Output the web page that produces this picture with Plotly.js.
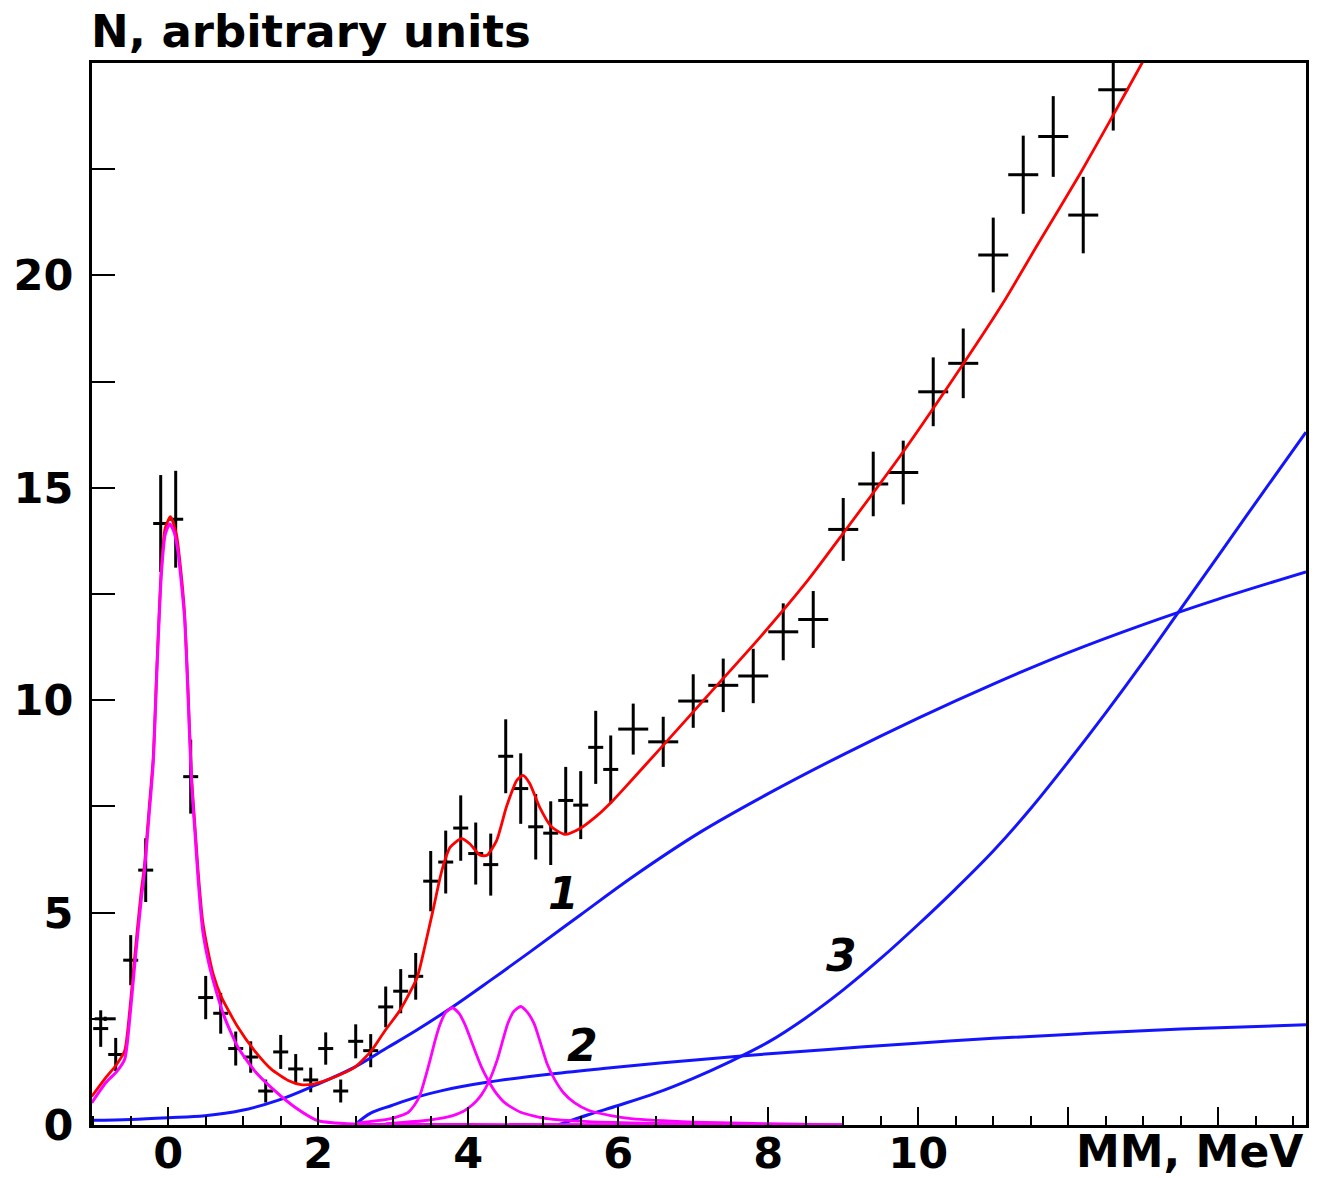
<!DOCTYPE html>
<html>
<head>
<meta charset="utf-8">
<script src="https://cdn.plot.ly/plotly-3.0.1.min.js"></script>
<style>html,body{margin:0;padding:0;background:#fff;}#chart{width:1322px;height:1178px;}</style>
</head>
<body>
<div id="chart"></div>
<script>
// ---- measured spectrum (bin centre, counts, errors) ----
const binCenter = [-0.9, -0.84, -0.7, -0.5, -0.3, -0.1, 0.1, 0.3, 0.5, 0.7, 0.9, 1.1, 1.3, 1.5, 1.7, 1.9, 2.1, 2.3, 2.5, 2.7, 2.9, 3.1, 3.3, 3.5, 3.7, 3.9, 4.1, 4.3, 4.5, 4.7, 4.9, 5.1, 5.3, 5.5, 5.7, 5.9, 6.2, 6.6, 7.0, 7.4, 7.8, 8.2, 8.6, 9.0, 9.4, 9.8, 10.2, 10.6, 11.0, 11.4, 11.8, 12.2, 12.6];
const counts    = [2.27, 2.5, 1.66, 3.88, 6.0, 14.16, 14.26, 8.2, 3.0, 2.63, 1.80, 1.60, 0.80, 1.72, 1.32, 1.06, 1.80, 0.80, 1.97, 1.75, 2.78, 3.15, 3.50, 5.74, 6.19, 6.99, 6.39, 6.13, 8.68, 7.92, 7.02, 6.87, 7.64, 7.53, 8.89, 8.37, 9.32, 9.02, 9.98, 10.35, 10.57, 11.61, 11.90, 14.02, 15.09, 15.36, 17.26, 17.93, 20.48, 22.37, 23.27, 21.42, 24.37];
const countErr  = [0.43, 0.05, 0.39, 0.59, 0.75, 1.14, 1.14, 0.87, 0.51, 0.48, 0.40, 0.37, 0.27, 0.40, 0.35, 0.29, 0.38, 0.27, 0.40, 0.39, 0.48, 0.52, 0.55, 0.71, 0.74, 0.77, 0.73, 0.73, 0.87, 0.83, 0.77, 0.75, 0.79, 0.80, 0.86, 0.80, 0.60, 0.59, 0.63, 0.63, 0.64, 0.67, 0.67, 0.74, 0.76, 0.75, 0.81, 0.82, 0.88, 0.92, 0.95, 0.90, 0.96];
const binHalfWidth = [0.1, 0.14, 0.1, 0.1, 0.1, 0.1, 0.1, 0.1, 0.1, 0.1, 0.1, 0.1, 0.1, 0.1, 0.1, 0.1, 0.1, 0.1, 0.1, 0.1, 0.1, 0.1, 0.1, 0.1, 0.1, 0.1, 0.1, 0.1, 0.1, 0.1, 0.1, 0.1, 0.1, 0.1, 0.1, 0.1, 0.2, 0.2, 0.2, 0.2, 0.2, 0.2, 0.2, 0.2, 0.2, 0.2, 0.2, 0.2, 0.2, 0.2, 0.2, 0.2, 0.2];

// ---- total fit (red) ----
const fitX = [-1.02, -0.83, -0.69, -0.58, -0.51, -0.45, -0.36, -0.32, -0.25, -0.2, -0.15, -0.09, -0.04, 0.03, 0.11, 0.19, 0.22, 0.26, 0.31, 0.36, 0.40, 0.46, 0.53, 0.6, 0.71, 0.93, 1.15, 1.37, 1.6, 1.77, 1.95, 2.22, 2.49, 2.71, 2.89, 3.09, 3.32, 3.42, 3.54, 3.65, 3.76, 3.91, 4.02, 4.16, 4.25, 4.38, 4.51, 4.65, 4.73, 4.82, 4.95, 5.11, 5.29, 5.49, 5.71, 5.93, 6.16, 6.56, 7.22, 7.89, 8.54, 9.0, 9.8, 10.65, 11.13, 11.6, 12.16, 12.56, 13.0, 13.1];
const fitY = [0.67, 1.12, 1.42, 1.75, 2.75, 3.9, 5.5, 6.05, 7.55, 8.65, 10.85, 13.15, 14.05, 14.32, 13.9, 12.67, 12.0, 10.45, 8.25, 6.95, 5.95, 4.8, 4.1, 3.55, 3.01, 2.30, 1.75, 1.32, 1.05, 0.95, 0.97, 1.13, 1.36, 1.75, 2.22, 2.70, 3.48, 4.19, 5.13, 6.0, 6.54, 6.74, 6.62, 6.35, 6.35, 6.70, 7.49, 8.12, 8.23, 8.04, 7.49, 7.02, 6.84, 6.98, 7.27, 7.64, 8.08, 8.86, 10.16, 11.48, 12.85, 13.93, 15.85, 18.05, 19.35, 20.75, 22.4, 23.65, 25.05, 25.4];

// ---- peaks (magenta) ----
const peak0X = [-1.02, -0.83, -0.69, -0.58, -0.51, -0.45, -0.36, -0.32, -0.25, -0.2, -0.15, -0.09, -0.04, 0.02, 0.08, 0.13, 0.19, 0.22, 0.26, 0.31, 0.36, 0.40, 0.46, 0.53, 0.60, 0.75, 0.93, 1.15, 1.42, 1.69, 2.0, 2.5, 4.0, 9.0];
const peak0Y = [0.52, 1.0, 1.25, 1.55, 2.55, 3.7, 5.3, 5.9, 7.4, 8.5, 10.7, 13.0, 13.9, 14.15, 13.95, 13.5, 12.5, 11.9, 10.3, 8.1, 6.8, 5.76, 4.58, 3.9, 3.4, 2.54, 1.83, 1.28, 0.81, 0.42, 0.1, 0.02, 0.01, 0.0];
const peak1X = [2.5, 2.97, 3.1, 3.2, 3.28, 3.36, 3.48, 3.56, 3.62, 3.7, 3.79, 3.88, 3.96, 4.03, 4.1, 4.18, 4.26, 4.36, 4.49, 4.7, 5.05, 5.6, 6.5, 8.0, 9.0];
const peak1Y = [0.04, 0.15, 0.22, 0.3, 0.46, 0.72, 1.45, 2.0, 2.35, 2.65, 2.76, 2.62, 2.35, 2.03, 1.7, 1.35, 1.07, 0.78, 0.52, 0.3, 0.15, 0.08, 0.04, 0.01, 0.0];
const peak2X = [2.9, 3.4, 3.7, 3.93, 4.1, 4.18, 4.27, 4.39, 4.47, 4.53, 4.61, 4.70, 4.79, 4.88, 4.96, 5.05, 5.15, 5.27, 5.42, 5.61, 5.9, 6.17, 7.0, 8.0, 9.0];
const peak2Y = [0.03, 0.1, 0.18, 0.32, 0.55, 0.72, 1.0, 1.55, 2.05, 2.4, 2.68, 2.79, 2.65, 2.38, 1.95, 1.45, 1.08, 0.76, 0.52, 0.34, 0.22, 0.15, 0.07, 0.03, 0.0];

// ---- backgrounds (blue) ----
const bg1X = [-1.02, -0.5, 0.0, 0.49, 0.97, 1.46, 1.95, 2.44, 2.93, 3.31, 3.80, 4.3, 4.82, 5.5, 6.2, 7.1, 8.0, 9.0, 10.0, 11.0, 12.0, 13.0, 14.0, 15.17];
const bg1Y = [0.11, 0.13, 0.17, 0.22, 0.34, 0.58, 0.93, 1.32, 1.83, 2.23, 2.79, 3.41, 4.07, 4.95, 5.85, 6.9, 7.8, 8.72, 9.58, 10.38, 11.12, 11.78, 12.38, 13.02];
const bg2X = [2.5, 2.7, 2.98, 3.3, 3.65, 4.27, 5.05, 5.8, 6.56, 7.68, 8.8, 9.93, 11.0, 12.18, 13.5, 15.17];
const bg2Y = [0.02, 0.28, 0.46, 0.65, 0.81, 1.01, 1.19, 1.33, 1.46, 1.63, 1.78, 1.92, 2.04, 2.15, 2.26, 2.36];
const bg3X = [5.2, 5.6, 6.0, 6.5, 7.0, 7.5, 8.0, 8.5, 9.0, 9.5, 10.0, 10.5, 11.0, 11.5, 12.0, 12.5, 13.0, 13.5, 14.0, 14.6, 15.17];
const bg3Y = [0.0, 0.24, 0.46, 0.75, 1.1, 1.5, 1.95, 2.52, 3.18, 3.92, 4.72, 5.56, 6.45, 7.45, 8.55, 9.7, 10.9, 12.15, 13.4, 14.9, 16.31];

// ---- labels ----
const curveLabels = ['1', '2', '3'];
const curveLabelX = [5.27, 5.53, 8.98];
const curveLabelY = [5.45, 1.87, 3.99];
const xTickVals = [0, 2, 4, 6, 8, 10, 12, 14];
const xTickText = ['0', '2', '4', '6', '8', '10', '', ''];
const yTickVals = [0, 5, 10, 15, 20];
const yTickText = ['0', '5', '10', '15', '20'];

const BLUE = 'rgb(20,20,255)';
const MAG = '#ff00ff';
const FONT = 'DejaVu Sans, Liberation Sans, sans-serif';

const traces = [
  {x: binCenter, y: counts, type: 'scatter', mode: 'markers',
   marker: {size: 1, color: 'rgba(0,0,0,0)'},
   error_y: {type: 'data', array: countErr, visible: true, color: '#000', thickness: 3, width: 0},
   error_x: {type: 'data', array: binHalfWidth, visible: true, color: '#000', thickness: 3, width: 0},
   hoverinfo: 'skip'},
  {x: bg1X, y: bg1Y, type: 'scatter', mode: 'lines', line: {color: BLUE, width: 3, shape: 'spline', smoothing: 1}},
  {x: bg2X, y: bg2Y, type: 'scatter', mode: 'lines', line: {color: BLUE, width: 3, shape: 'spline', smoothing: 1}},
  {x: bg3X, y: bg3Y, type: 'scatter', mode: 'lines', line: {color: BLUE, width: 3, shape: 'spline', smoothing: 1}},
  {x: fitX, y: fitY, type: 'scatter', mode: 'lines', line: {color: '#ff0000', width: 2.8, shape: 'spline', smoothing: 0.6}},
  {x: peak0X, y: peak0Y, type: 'scatter', mode: 'lines', line: {color: MAG, width: 3, shape: 'spline', smoothing: 0.6}},
  {x: peak1X, y: peak1Y, type: 'scatter', mode: 'lines', line: {color: MAG, width: 2.8, shape: 'spline', smoothing: 0.6}},
  {x: peak2X, y: peak2Y, type: 'scatter', mode: 'lines', line: {color: MAG, width: 2.8, shape: 'spline', smoothing: 0.6}}
];

const annotations = curveLabels.map((t, i) => ({
  x: curveLabelX[i], y: curveLabelY[i], xref: 'x', yref: 'y', text: t, showarrow: false,
  font: {family: FONT, size: 44, color: '#000', weight: 'bold', style: 'italic'}
}));
annotations.push({
  x: 0, y: 1, xref: 'paper', yref: 'paper', xanchor: 'left', yanchor: 'middle', yshift: 32, xshift: -3,
  text: 'N, arbitrary units', showarrow: false,
  font: {family: FONT, size: 45, color: '#000', weight: 'bold'}
});
annotations.push({
  x: 1, y: 0, xref: 'paper', yref: 'paper', xanchor: 'right', yanchor: 'middle', yshift: -26, xshift: -2,
  text: 'MM, MeV', showarrow: false, borderpad: 0,
  font: {family: FONT, size: 44, color: '#000', weight: 'bold'}
});

const layout = {
  width: 1322, height: 1178,
  margin: {l: 92, r: 16, t: 63, b: 53, pad: 0},
  paper_bgcolor: '#fff', plot_bgcolor: '#fff',
  showlegend: false,
  xaxis: {
    range: [-1.016, 15.17], showgrid: false, zeroline: false,
    showline: true, linecolor: '#000', linewidth: 3, mirror: true, layer: 'above traces',
    ticks: 'inside', ticklen: 18, tickwidth: 2, tickcolor: '#000',
    tickmode: 'array', tickvals: xTickVals, ticktext: xTickText,
    minor: {dtick: 0.5, tick0: 0, ticks: 'inside', ticklen: 9, tickwidth: 2, tickcolor: '#000', showgrid: false},
    tickfont: {family: FONT, size: 43, color: '#000', weight: 'bold'},
    ticklabelstandoff: -12
  },
  yaxis: {
    range: [0, 25], showgrid: false, zeroline: false,
    showline: true, linecolor: '#000', linewidth: 3, mirror: true, layer: 'above traces',
    ticks: 'inside', ticklen: 23, tickwidth: 2, tickcolor: '#000',
    tickmode: 'array', tickvals: yTickVals, ticktext: yTickText,
    minor: {dtick: 2.5, tick0: 0, ticks: 'inside', ticklen: 23, tickwidth: 2, tickcolor: '#000', showgrid: false},
    tickfont: {family: FONT, size: 43, color: '#000', weight: 'bold'},
    ticklabelstandoff: 7
  },
  annotations: annotations
};

Plotly.newPlot('chart', traces, layout, {displayModeBar: false, staticPlot: true});
</script>
</body>
</html>
